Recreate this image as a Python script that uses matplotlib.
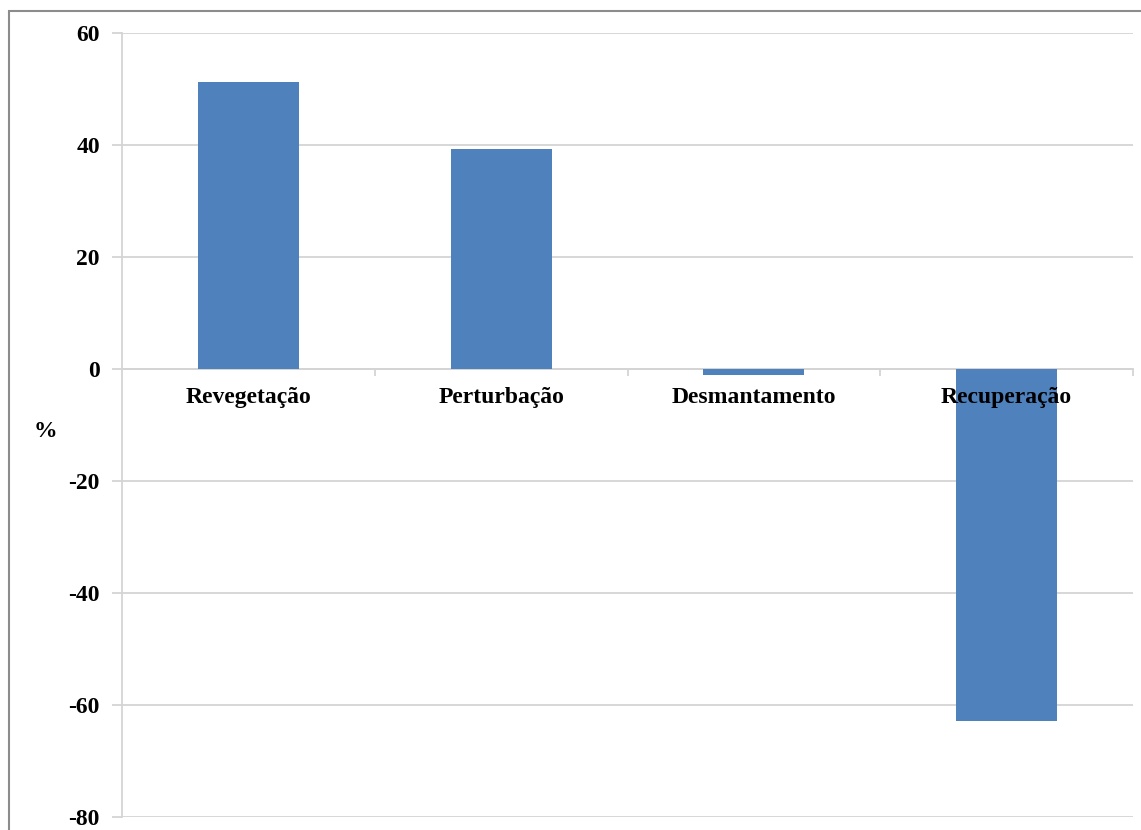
import matplotlib.pyplot as plt
from matplotlib.patches import Rectangle

# Variação percentual por classe
categorias = ['Revegetação', 'Perturbação', 'Desmantamento', 'Recuperação']
valores = [51.3, 39.2, -1.1, -62.8]
yticks = [60, 40, 20, 0, -20, -40, -60, -80]

plt.rcParams['font.family'] = ['Liberation Serif', 'DejaVu Serif']
plt.rcParams['font.weight'] = 'bold'

fig = plt.figure(figsize=(11.41, 8.30), dpi=100)
W, H = 1141, 830

# moldura externa cinza
fig.patches.append(Rectangle((9 / W, -0.1), 1.2, (H - 11) / H + 0.1,
                             transform=fig.transFigure, fill=False,
                             edgecolor='#8c8c8c', linewidth=1.5))

ax = fig.add_axes([122 / W, (H - 817) / H, (1133 - 122) / W, (817 - 33) / H])

x = list(range(len(categorias)))
ax.bar(x, valores, width=0.4, color='#4f81bd', zorder=3)

ax.set_xlim(-0.5, len(categorias) - 0.5)
ax.set_ylim(-80, 60)
ax.set_yticks(yticks)
ax.set_yticklabels([str(v) for v in yticks], fontsize=17, fontweight='bold')
ax.yaxis.grid(True, color='#d4d4d4', linewidth=1.3, zorder=0)
ax.tick_params(axis='y', length=7, color='#d4d4d4', width=1.3, pad=9)

# eixo das categorias sobre o zero
ax.spines['bottom'].set_position(('data', 0))
ax.spines['bottom'].set_color('#d4d4d4')
ax.spines['bottom'].set_linewidth(1.3)
ax.spines['left'].set_color('#d4d4d4')
ax.spines['left'].set_linewidth(1.3)
ax.spines['top'].set_visible(False)
ax.spines['right'].set_visible(False)

ax.set_xticks([i + 0.5 for i in x], minor=True)
ax.tick_params(axis='x', which='minor', length=5, color='#d4d4d4', width=1.3)
ax.set_xticks(x)
ax.set_xticklabels([])
ax.tick_params(axis='x', which='major', length=0)

# rótulos das categorias por cima das barras
for i, nome in enumerate(categorias):
    ax.text(i, -5.0, nome, fontsize=17, fontweight='bold', ha='center',
            va='center', zorder=5, clip_on=False)

fig.text(45 / W, 1 - 431 / H, '%', fontsize=17, fontweight='bold',
         ha='center', va='center')

fig.savefig('out.png', dpi=100)
